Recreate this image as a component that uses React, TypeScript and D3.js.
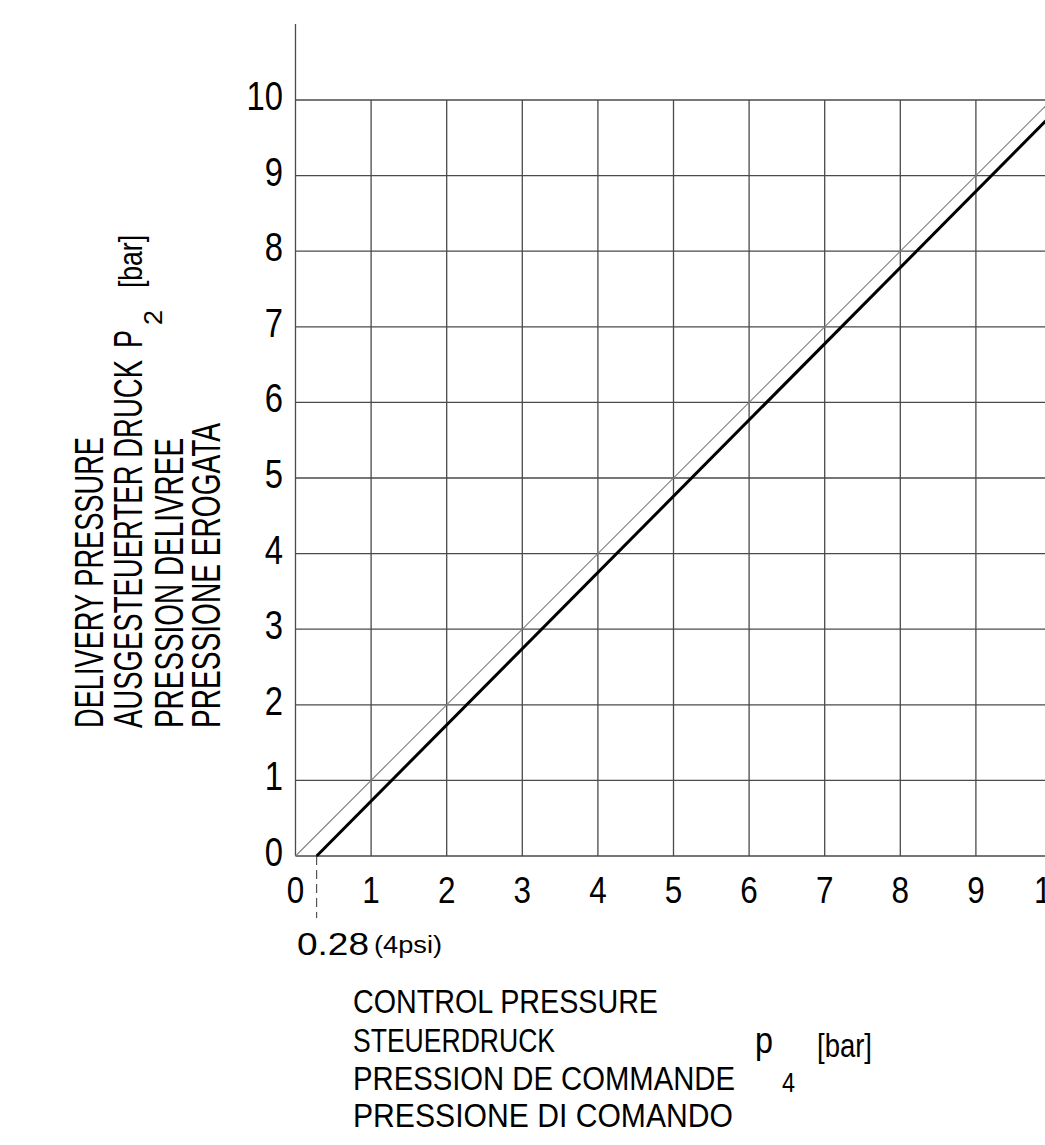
import { useEffect, useRef } from "react";
import * as d3 from "d3";

// axis ticks (bar)
const xTicks = [0, 1, 2, 3, 4, 5, 6, 7, 8, 9, 10];
const yTicks = [0, 1, 2, 3, 4, 5, 6, 7, 8, 9, 10];

// reference line p2 = p4 and the measured characteristic
const idealLine: [number, number][] = [
  [0, 0],
  [10, 10],
];
const deliveryLine: [number, number][] = [
  [0.28, 0],
  [10, 9.8],
];
const crackingPressure = 0.28;

const yTitleLines = [
  "DELIVERY PRESSURE",
  "AUSGESTEUERTER DRUCK",
  "PRESSION DELIVREE",
  "PRESSIONE EROGATA",
];
const yTitleLengths = [291, 368, 290, 305];
const xTitleLines = [
  "CONTROL PRESSURE",
  "STEUERDRUCK",
  "PRESSION DE COMMANDE",
  "PRESSIONE DI COMANDO",
];
const xTitleLengths = [305, 202, 382, 380];

const FONT = "'Liberation Sans', Arial, sans-serif";

function PressureChart({ width = 1045, height = 1145 }) {
  const svgRef = useRef<SVGSVGElement | null>(null);

  useEffect(() => {
    if (!svgRef.current) return;
    const svg = d3.select(svgRef.current);
    svg.selectAll("*").remove();

    const x = d3.scaleLinear().domain([0, 10]).range([295.5, 1051.5]);
    const y = d3.scaleLinear().domain([0, 10]).range([856, 100]);

    const grid = svg.append("g").attr("stroke", "#4a4a4a").attr("stroke-width", 1.3);

    grid
      .selectAll("line.v")
      .data(xTicks)
      .enter()
      .append("line")
      .attr("x1", (d) => x(d))
      .attr("x2", (d) => x(d))
      .attr("y1", (d) => (d === 0 ? 24 : y(10)))
      .attr("y2", y(0));

    grid
      .selectAll("line.h")
      .data(yTicks)
      .enter()
      .append("line")
      .attr("x1", x(0))
      .attr("x2", x(10))
      .attr("y1", (d) => y(d))
      .attr("y2", (d) => y(d));

    const line = d3
      .line<[number, number]>()
      .x((d) => x(d[0]))
      .y((d) => y(d[1]));

    svg
      .append("path")
      .attr("d", line(idealLine) as string)
      .attr("fill", "none")
      .attr("stroke", "#808080")
      .attr("stroke-width", 1.1);

    svg
      .append("path")
      .attr("d", line(deliveryLine) as string)
      .attr("fill", "none")
      .attr("stroke", "#000")
      .attr("stroke-width", 3);

    // dashed marker for the cracking pressure
    svg
      .append("line")
      .attr("x1", x(crackingPressure))
      .attr("x2", x(crackingPressure))
      .attr("y1", y(0))
      .attr("y2", 918)
      .attr("stroke", "#333")
      .attr("stroke-width", 1)
      .attr("stroke-dasharray", "9,5");

    const txt = svg.append("g").attr("font-family", FONT).attr("fill", "#000");

    // y tick labels
    txt
      .selectAll("text.yt")
      .data(yTicks)
      .enter()
      .append("text")
      .attr("transform", (d) => `translate(283,${y(d) + 10}) scale(0.8,1)`)
      .attr("text-anchor", "end")
      .attr("font-size", 41)
      .text((d) => d);

    // x tick labels
    txt
      .selectAll("text.xt")
      .data(xTicks)
      .enter()
      .append("text")
      .attr("transform", (d) => `translate(${x(d)},903) scale(0.85,1)`)
      .attr("text-anchor", "middle")
      .attr("font-size", 37)
      .text((d) => d);

    txt
      .append("text")
      .attr("x", 297)
      .attr("y", 955)
      .attr("font-size", 32)
      .attr("textLength", 72)
      .attr("lengthAdjust", "spacingAndGlyphs")
      .text(String(crackingPressure));
    txt
      .append("text")
      .attr("x", 374)
      .attr("y", 953)
      .attr("font-size", 23)
      .attr("textLength", 68)
      .attr("lengthAdjust", "spacingAndGlyphs")
      .text("(4psi)");

    // x axis title
    xTitleLines.forEach((s, i) => {
      txt
        .append("text")
        .attr("x", 353)
        .attr("y", [1013, 1052, 1090, 1127][i])
        .attr("font-size", 34)
        .attr("textLength", xTitleLengths[i])
        .attr("lengthAdjust", "spacingAndGlyphs")
        .text(s);
    });
    txt.append("text").attr("x", 755).attr("y", 1053).attr("font-size", 36)
      .attr("textLength", 18).attr("lengthAdjust", "spacingAndGlyphs").text("p");
    txt.append("text").attr("x", 782).attr("y", 1092).attr("font-size", 28)
      .attr("textLength", 13).attr("lengthAdjust", "spacingAndGlyphs").text("4");
    txt.append("text").attr("x", 817).attr("y", 1057).attr("font-size", 33)
      .attr("textLength", 55).attr("lengthAdjust", "spacingAndGlyphs").text("[bar]");

    // y axis title (rotated)
    const yBase = [103, 142, 183, 220];
    yTitleLines.forEach((s, i) => {
      txt
        .append("text")
        .attr("transform", `translate(${yBase[i]},728) rotate(-90)`)
        .attr("font-size", 40)
        .attr("textLength", yTitleLengths[i])
        .attr("lengthAdjust", "spacingAndGlyphs")
        .text(s);
    });
    txt.append("text").attr("transform", "translate(142,348) rotate(-90)")
      .attr("font-size", 40).attr("textLength", 18).attr("lengthAdjust", "spacingAndGlyphs").text("P");
    txt.append("text").attr("transform", "translate(162,325) rotate(-90)")
      .attr("font-size", 26).attr("textLength", 15).attr("lengthAdjust", "spacingAndGlyphs").text("2");
    txt.append("text").attr("transform", "translate(142,288) rotate(-90)")
      .attr("font-size", 34).attr("textLength", 53).attr("lengthAdjust", "spacingAndGlyphs").text("[bar]");
  }, [width, height]);

  return (
    <svg
      ref={svgRef}
      width={width}
      height={height}
      style={{ position: "absolute", left: 0, top: 0, background: "#fff", display: "block" }}
    />
  );
}

export default function App() {
  return <PressureChart />;
}
